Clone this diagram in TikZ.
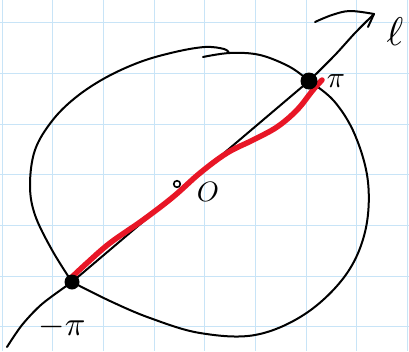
\documentclass[tikz,border=0pt]{standalone}
\usepackage{fontspec}
\begin{document}
\begin{tikzpicture}[x=1pt,y=-1pt,
  gridline/.style={draw=gridblue, line width=1pt},
  pen/.style={draw=black, line width=2pt, line cap=round, line join=round},
  redpen/.style={draw=inkred, line width=5.5pt, line cap=round, line join=round},
  blob/.style={circle, fill=black, inner sep=0pt, minimum size=#1},
  lbl/.style={inner sep=0pt, text=black, font=\fontsize{10}{12}\selectfont}]
\definecolor{gridblue}{RGB}{200,228,247}
\definecolor{inkred}{RGB}{232,22,38}
\useasboundingbox (0,0) rectangle (409,351);
\fill[white] (0,0) rectangle (409,351);
% grid
\foreach \i in {0,...,8} { \draw[gridline] ({2+50.7*\i},0) -- ({2+50.7*\i},351); }
\foreach \j in {0,...,6} { \draw[gridline] (0,{22.7+50.7*\j}) -- (409,{22.7+50.7*\j}); }

% named points
\coordinate (P) at (309,81);
\coordinate (Q) at (72,282);
\coordinate (tip) at (374,14);
\coordinate (tail) at (7,347);
\coordinate (C) at (177,184);

% closed curve (hand drawn)
\draw[pen] plot[smooth, tension=0.6] coordinates {(P) (334,101) (355,135) (368,182) (365,232) (345,276) (305,314) (255,335) (200,333) (150,318) (110,301) (Q)};
\draw[pen] plot[smooth, tension=0.6] coordinates {(Q) (52,250) (35,215) (30,185) (35,150) (52,121) (75,98) (105,78) (140,62) (175,52) (205,47) (224,49) (229,53)};
\draw[pen] plot[smooth, tension=0.6] coordinates {(203,57) (230,53) (260,55) (290,67) (P)};

% line l
\draw[pen] (Q) -- (P);
\draw[pen] plot[smooth, tension=0.5] coordinates {(P) (335,55) (355,33) (tip)};
\draw[pen] plot[smooth, tension=0.5] coordinates {(Q) (42,304) (22,325) (tail)};
% arrow head
\draw[pen] plot[smooth, tension=0.6] coordinates {(315,22) (332,15) (350,11) (tip)};
\draw[pen] (tip) -- (368,27);

% red segment
\draw[redpen] plot[smooth, tension=0.6] coordinates {(72,277) (87,263) (110,243) (143,220) (173,197) (200,173) (227,153) (253,140) (277,127) (297,110) (313,90) (322,80)};

% points
\node[blob=17pt] (Pdot) at (P) {};
\node[blob=15pt] (Qdot) at (Q) {};
\draw[line width=1.6pt] (C) circle (3.3);
\node[circle, inner sep=0pt, minimum size=1pt] (Cn) at (C) {};

% labels
\node[lbl, scale=4.0] (ell) at (395,32) {$\ell$};
\node[lbl, scale=3.0] (pi) at (336,81) {$\pi$};
\node[lbl, scale=3.4] (mpi) at (62,327) {$-\pi$};
\node[lbl, scale=2.8] (O) at (208,192) {$O$};
\end{tikzpicture}
\end{document}
